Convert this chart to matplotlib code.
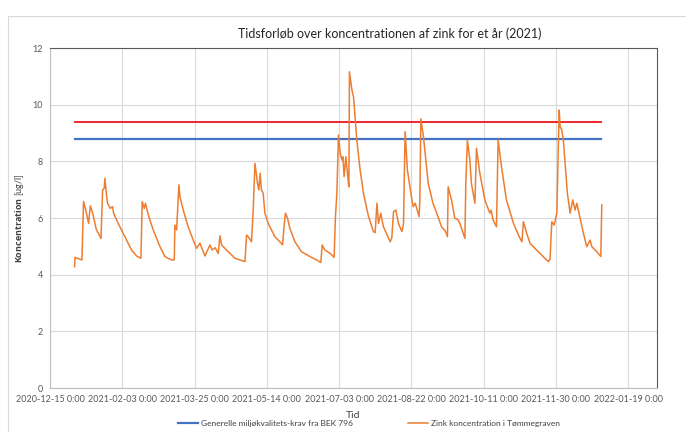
import matplotlib
matplotlib.use('Agg')
import matplotlib.pyplot as plt
from matplotlib.patches import Rectangle
import pandas as pd

# data (dage fra 2021-01-01 og koncentration i ug/l)
start = pd.Timestamp('2021-01-01')
dag = [0, 0.3, 5.1, 6.2, 8.1, 9.7, 10.9, 12.7, 15.0, 18.3, 19.4, 20.5, 21.0, 21.9, 22.8,
       24.7, 26.3, 27.0, 30.2, 36.0, 39.4, 42.9, 45.9, 46.8, 48.2, 49.1, 51.0, 54.4,
       59.1, 62.5, 67.1, 69.0, 69.4, 70.6, 72.2, 72.9, 75.2, 78.6, 82.1, 84.4, 86.7,
       90.2, 93.7, 95.2, 97.3, 99.4, 100.6, 101.7, 105.1, 111.0, 117.9, 119.0, 120.1,
       122.4, 123.6, 124.8, 126.6, 127.5, 128.4, 129.3, 130.5, 131.7, 134.0, 138.6,
       142.1, 143.9, 144.8, 145.9, 147.3, 149.0, 152.5, 157.0, 162.8, 167.4, 170.4,
       171.3, 173.2, 176.9, 179.6, 180.5, 181.5, 182.6, 183.8, 185.0, 185.7, 186.5,
       187.7, 188.8, 189.8, 190.2, 191.9, 193.0, 195.3, 197.6, 199.9, 203.4, 206.8,
       208.0, 209.2, 210.3, 211.9, 213.7, 218.4, 219.5, 220.7, 222.3, 224.1, 226.5,
       227.6, 228.7, 230.3, 233.4, 234.3, 235.7, 238.4, 238.9, 239.6, 241.4, 244.7,
       248.1, 250.6, 253.9, 256.4, 258.0, 258.5, 260.8, 263.1, 265.1, 266.6, 270.1,
       270.7, 271.8, 273.5, 274.6, 277.0, 278.1, 280.4, 283.9, 287.3, 288.2, 289.6,
       291.9, 293.1, 295.4, 298.8, 303.7, 307.1, 309.5, 310.6, 312.9, 315.2, 320.9,
       325.6, 327.9, 329.0, 330.2, 331.8, 333.7, 335.3, 336.0, 337.1, 338.2, 341.0,
       342.9, 344.7, 346.3, 347.5, 352.1, 354.4, 356.7, 357.9, 361.3, 364.1, 364.8]
zink = [4.28, 4.61, 4.52, 6.58, 6.2, 5.81, 6.43, 6.14, 5.6, 5.28, 6.99, 7.05, 7.40, 6.9, 6.52,
        6.34, 6.40, 6.17, 5.81, 5.22, 4.87, 4.66, 4.58, 6.58, 6.34, 6.52, 6.11, 5.58,
        4.99, 4.64, 4.52, 4.52, 5.75, 5.58, 7.17, 6.75, 6.28, 5.69, 5.22, 4.93, 5.11,
        4.66, 5.05, 4.87, 4.95, 4.75, 5.37, 5.05, 4.87, 4.58, 4.46, 5.40, 5.34,
        5.16, 6.28, 7.93, 7.22, 6.99, 7.58, 6.99, 6.87, 6.17, 5.81, 5.34,
        5.16, 5.05, 5.63, 6.17, 6.00, 5.63, 5.16, 4.81, 4.64, 4.52, 4.43,
        5.05, 4.87, 4.75, 4.61, 6.05, 6.87, 8.93, 8.28, 8.05, 8.16, 7.46,
        8.16, 7.58, 7.10, 11.16, 10.52, 10.28, 8.75, 7.69, 6.87, 6.05, 5.52,
        5.48, 6.52, 5.81, 6.17, 5.69, 5.16, 5.30, 6.22, 6.28, 5.81, 5.52,
        5.81, 9.05, 7.69, 6.64, 6.40, 6.52, 6.05, 6.60, 9.50, 8.87, 7.22,
        6.50, 6.17, 5.69, 5.55, 5.34, 7.10, 6.64, 5.99, 5.95, 5.81, 5.28,
        7.22, 8.75, 8.05, 7.22, 6.52, 8.46, 7.58, 6.64, 6.17, 6.28, 5.93,
        5.69, 8.75, 7.81, 6.64, 5.81, 5.40, 5.16, 5.87, 5.45, 5.10, 4.81,
        4.57, 4.46, 4.55, 5.87, 5.75, 6.17, 9.81, 9.22, 9.11, 8.75, 6.87,
        6.17, 6.64, 6.28, 6.52, 5.46, 4.99, 5.22, 4.99, 4.81, 4.64, 6.46]

krav_blaa = 8.8   # Generelle miljøkvalitets-krav fra BEK 796
krav_roed = 9.4
krav_periode = ['2021-01-01', '2021-12-31']

tid = start + pd.to_timedelta(dag, unit='D')

plt.rcParams['font.family'] = ['Lato', 'DejaVu Sans']
plt.rcParams['mathtext.fontset'] = 'custom'
plt.rcParams['mathtext.rm'] = 'Lato'
plt.rcParams['mathtext.bf'] = 'Open Sans:bold'

fig = plt.figure(figsize=(6.86, 4.32), dpi=100)
ax = fig.add_axes([50/686, 44/432, 607/686, 340/432])

ax.plot(pd.to_datetime(krav_periode), [krav_roed, krav_roed], color='#f0262a', lw=1.4)
ax.plot(pd.to_datetime(krav_periode), [krav_blaa, krav_blaa], color='#4472c4', lw=1.6,
        label='Generelle miljøkvalitets-krav fra BEK 796')
ax.plot(tid, zink, color='#ed7d31', lw=1.1, label='Zink koncentration i Tømmegraven')

x0 = pd.Timestamp('2020-12-15')
ticks = [x0 + pd.Timedelta(days=50*i) for i in range(9)]
ax.set_xticks(ticks)
ax.set_xticklabels([t.strftime('%Y-%m-%d 0:00') for t in ticks])
ax.set_xlim(x0, x0 + pd.Timedelta(days=420))
ax.set_ylim(0, 12)
ax.set_yticks(range(0, 13, 2))

ax.grid(True, color='#d9d9d9', lw=0.8)
ax.set_axisbelow(True)
ax.tick_params(length=0, labelsize=6.5, colors='#595959', pad=5)
for s in ['top', 'right']:
    ax.spines[s].set_color('#595959')
for s in ['left', 'bottom']:
    ax.spines[s].set_color('#bfbfbf')

ax.set_title('Tidsforløb over koncentrationen af zink for et år (2021)', fontsize=9,
             color='#262626', pad=7, x=0.56)
ax.set_xlabel('Tid', fontsize=7.5, color='#404040', labelpad=5)
ax.set_ylabel(r'$\mathbf{Koncentration}$ [ug/l]', fontsize=6.5, color='#404040', labelpad=5)

fig.legend(handles=ax.lines[1:], loc='lower center', bbox_to_anchor=(0.538, -0.005),
           ncol=2, frameon=False, fontsize=6, labelcolor='#404040',
           handlelength=2.4, handletextpad=0.4, columnspacing=6.6)

# ydre ramme om diagramområdet
fig.patches.append(Rectangle((8/686, 0), 0.99, 1 - 16/432, transform=fig.transFigure,
                             fill=False, edgecolor='#d9d9d9', lw=0.8))

fig.savefig('out.png', dpi=100)
